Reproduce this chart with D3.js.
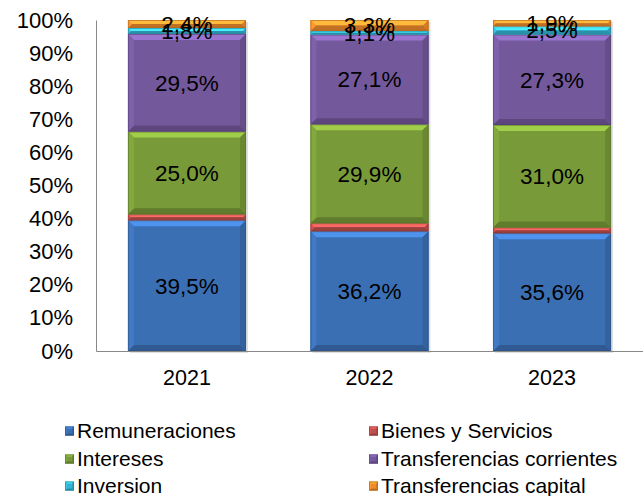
<!doctype html>
<html>
<head>
<meta charset="utf-8">
<script src="https://cdnjs.cloudflare.com/ajax/libs/d3/7.8.5/d3.min.js"></script>
<style>
  body { margin: 0; background: #fff; }
  svg { font-family: "Liberation Sans", Arial, sans-serif; }
</style>
</head>
<body>
<svg width="643" height="496"></svg>
<script>
// data
var years = ["2021", "2022", "2023"];
var seriesNames = ["Remuneraciones", "Bienes y Servicios", "Intereses",
  "Transferencias corrientes", "Inversion", "Transferencias capital"];
var remuneraciones = [39.5, 36.2, 35.6];
var bienes = [1.8, 2.4, 1.7];
var intereses = [25.0, 29.9, 31.0];
var transfCorrientes = [29.5, 27.1, 27.3];
var inversion = [1.8, 1.1, 2.5];
var transfCapital = [2.4, 3.3, 1.9];
var yTicks = [0, 10, 20, 30, 40, 50, 60, 70, 80, 90, 100];
var colors = ["#3b6fb4", "#c0504d", "#789a38", "#74589c", "#35b3d2", "#ef8b2c"];
var showLabel = [true, false, true, true, true, true];

var values = [remuneraciones, bienes, intereses, transfCorrientes, inversion, transfCapital];

var svg = d3.select("svg");
var plotLeft = 96, plotRight = 643, plotTop = 20, plotBottom = 351;

var x = d3.scaleBand().domain(years).range([plotLeft, plotRight])
  .paddingInner(0.353).paddingOuter(0.175);
var y = d3.scaleLinear().domain([0, 100]).range([plotBottom, plotTop]);

var rows = years.map(function (yr, i) {
  var r = { year: yr };
  seriesNames.forEach(function (s, k) { r[s] = values[k][i]; });
  return r;
});
var stacked = d3.stack().keys(seriesNames)(rows);

function fmt(v) { return d3.format(".1f")(v).replace(".", ",") + "%"; }

// bevelled bar segment
function bevel(g, x0, y0, w, h, c, size) {
  var b = Math.min(size, h / 2);
  var base = d3.color(c);
  g.append("rect").attr("x", x0).attr("y", y0).attr("width", w).attr("height", h)
    .attr("fill", base);
  var x1 = x0 + w, y1 = y0 + h;
  var polys = [
    { p: [[x0, y0], [x1, y0], [x1 - b, y0 + b], [x0 + b, y0 + b]], f: base.brighter(0.8) },
    { p: [[x0, y1], [x1, y1], [x1 - b, y1 - b], [x0 + b, y1 - b]], f: base.darker(0.6) },
    { p: [[x0, y0], [x0 + b, y0 + b], [x0 + b, y1 - b], [x0, y1]], f: base.brighter(0.25) },
    { p: [[x1, y0], [x1 - b, y0 + b], [x1 - b, y1 - b], [x1, y1]], f: base.darker(0.35) }
  ];
  polys.forEach(function (d) {
    g.append("polygon").attr("points", d.p.map(function (q) { return q.join(","); }).join(" "))
      .attr("fill", d.f);
  });
  g.append("rect").attr("x", x0 + 0.5).attr("y", y0 + 0.5).attr("width", w - 1)
    .attr("height", Math.max(0, h - 1)).attr("fill", "none")
    .attr("stroke", base.darker(0.9)).attr("stroke-width", 1).attr("stroke-opacity", 0.6);
}

// shadow
var shadow = svg.append("g");
years.forEach(function (yr) {
  shadow.append("rect").attr("x", x(yr) + 2).attr("y", y(100) + 2)
    .attr("width", x.bandwidth()).attr("height", y(0) - y(100))
    .attr("fill", "#000").attr("opacity", 0.12);
});

var bars = svg.append("g");
stacked.forEach(function (layer, k) {
  layer.forEach(function (d, i) {
    bevel(bars, x(years[i]), y(d[1]), x.bandwidth(), y(d[0]) - y(d[1]), colors[k], 6);
  });
});

// axes
var yAxis = svg.append("g").attr("transform", "translate(" + plotLeft + ",0)")
  .call(d3.axisLeft(y).tickValues(yTicks).tickSize(0).tickPadding(23)
    .tickFormat(function (d) { return d + "%"; }));
yAxis.select(".domain").attr("stroke", "#888");
yAxis.selectAll("text").attr("font-size", 22).attr("fill", "#000")
  .attr("font-family", "Liberation Sans, Arial, sans-serif");

var xAxis = svg.append("g").attr("transform", "translate(0," + plotBottom + ")")
  .call(d3.axisBottom(x).tickSize(0).tickPadding(19));
xAxis.select(".domain").attr("stroke", "#888");
xAxis.selectAll("text").attr("font-size", 21.5).attr("fill", "#000")
  .attr("font-family", "Liberation Sans, Arial, sans-serif");

// value labels
var labels = svg.append("g");
stacked.forEach(function (layer, k) {
  if (!showLabel[k]) return;
  layer.forEach(function (d, i) {
    labels.append("text")
      .attr("x", x(years[i]) + x.bandwidth() / 2)
      .attr("y", y((d[0] + d[1]) / 2))
      .attr("dy", "0.35em").attr("text-anchor", "middle")
      .attr("font-size", 22.5).attr("fill", "#000")
      .text(fmt(d[1] - d[0]));
  });
});

// legend
var legend = svg.append("g");
var legX = [65, 369], legY = [431, 459, 486];
seriesNames.forEach(function (s, k) {
  var lx = legX[k % 2], ly = legY[Math.floor(k / 2)];
  bevel(legend, lx, ly - 4.5, 9, 9, colors[k], 2);
  legend.append("text").attr("x", lx + 12).attr("y", ly).attr("dy", "0.35em")
    .attr("font-size", 21).attr("fill", "#000").text(s);
});
</script>
</body>
</html>
